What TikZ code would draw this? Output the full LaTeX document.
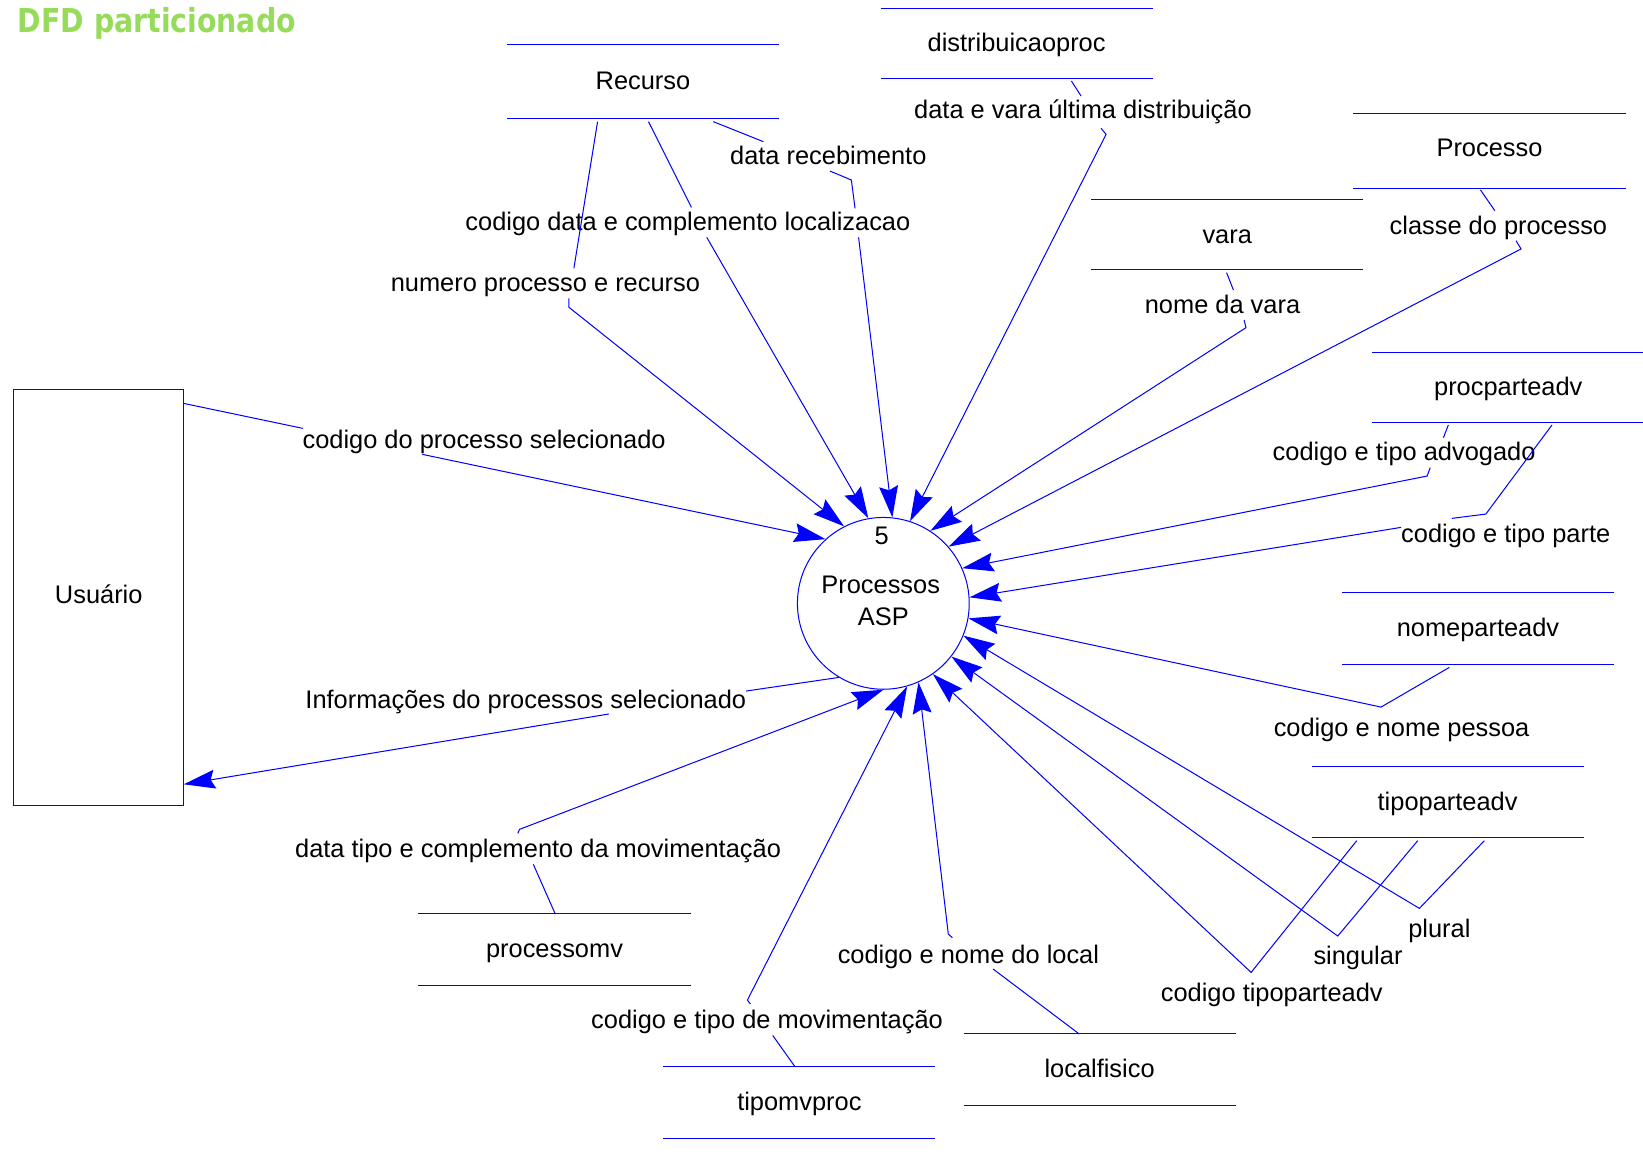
\documentclass[tikz,border=0pt]{standalone}
\usepackage{fontspec}
\setmainfont{Liberation Sans}
\newfontfamily\titlefont[FakeStretch=0.86]{DejaVu Sans}
\usetikzlibrary{arrows.meta,calc}
\definecolor{flowblue}{RGB}{0,0,255}
\definecolor{titlegreen}{RGB}{150,220,90}

\begin{document}
\begin{tikzpicture}[x=0.02cm,y=-0.02cm,
  txt/.style={font=\fontsize{13.8pt}{16pt}\selectfont, inner sep=0pt,
              text height=9.6pt, text depth=0.6pt},
  store/.style={txt, minimum width=5.18cm, minimum height=#1},
  store/.default=1.36cm,
  storeline/.style={draw=flowblue, line width=0.55pt},
  flow/.style={draw=flowblue, line width=0.55pt},
  arrowflow/.style={flow, -{Stealth[length=0.6cm,width=0.36cm,inset=0.08cm]}},
]
\useasboundingbox (0,0) rectangle (1568,1099);

% title
\node[anchor=base west, inner sep=0pt, text=titlegreen,
      font=\titlefont\bfseries\fontsize{17.9pt}{20pt}\selectfont]
  (title) at (16.7,30.9) {DFD particionado};

% external entity
\node[draw=flowblue, line width=0.55pt, txt, text height=6.8pt,
      minimum width=3.246cm, minimum height=7.958cm]
  (U) at (94.25,570.25) {Usuário};

% process
\node[draw=flowblue, line width=0.55pt, circle, minimum size=3.28cm,
      inner sep=0pt] (P) at (843,575.8) {};
\node[txt] (pnum) at (841.5,512.2) {5};
\node[txt] (pname1) at (840.5,558.3) {Processos};
\node[txt] (pname2) at (843,588.6) {ASP};

% data stores
\node[store=1.40cm]  (rec)  at (613.6,77.9)   {Recurso};
\node[store=1.32cm, text height=8.5pt]  (dist) at (970.2,41.9) {distribuicaoproc};
\node[store=1.406cm, text height=6.2pt] (proc) at (1421.5,144) {Processo};
\node[store=1.32cm]  (vara) at (1171.2,224)   {vara};
\node[store=1.316cm, text height=8.5pt] (ppa)  at (1439.4,370.1) {procparteadv};
\node[store=1.368cm] (npa)  at (1410.5,599.8) {nomeparteadv};
\node[store=1.354cm] (tpa)  at (1381.5,765.3) {tipoparteadv};
\node[store=1.368cm] (pmv)  at (529.2,906.2)  {processomv};
\node[store=1.356cm] (lf)   at (1049.4,1020.7){localfisico};
\node[store=1.368cm] (tmv)  at (762.9,1052.2) {tipomvproc};
\foreach \s in {rec,dist,proc,vara,ppa,npa,tpa,pmv,lf,tmv}
  \draw[storeline] (\s.north west) -- (\s.north east)
                   (\s.south west) -- (\s.south east);

% flow labels
\node[txt] (l1)  at (462,420)      {codigo do processo selecionado};
\node[txt] (l2)  at (501.8,668)    {Informações do processos selecionado};
\node[txt] (l3)  at (520.5,270)    {numero processo e recurso};
\node[txt] (l4)  at (656.5,212)    {codigo data e complemento localizacao};
\node[txt] (l5)  at (790.5,149)    {data recebimento};
\node[txt] (l6)  at (1033.5,105)   {data e vara última distribuição};
\node[txt] (l7)  at (1166.7,291)   {nome da vara};
\node[txt] (l8)  at (1430,216.3)   {classe do processo};
\node[txt] (l9)  at (1340,432)     {codigo e tipo advogado};
\node[txt] (l10) at (1437,510)     {codigo e tipo parte};
\node[txt] (l11) at (1337.6,694.5) {codigo e nome pessoa};
\node[txt] (l12) at (1373.7,886.6) {plural};
\node[txt] (l13) at (1296,913)     {singular};
\node[txt] (l14) at (1213.7,948)   {codigo tipoparteadv};
\node[txt] (l15) at (924.2,911.4)  {codigo e nome do local};
\node[txt] (l16) at (732,974.1)    {codigo e tipo de movimentação};
\node[txt] (l17) at (513.5,810)    {data tipo e complemento da movimentação};

% waypoints of the flows (each flow is interrupted by its label)
\coordinate (u1)  at (175.4,385);   \coordinate (f1a) at (289,408.8);
\coordinate (f1b) at (403,433.6);
\coordinate (f2a) at (712,659.5);   \coordinate (f2b) at (581,681.4);
\coordinate (u2)  at (175.4,748.5);
\coordinate (r1)  at (570.3,116.1); \coordinate (f3a) at (547.7,256);
\coordinate (f3b) at (543,284.7);   \coordinate (f3c) at (543,293.3);
\coordinate (r2)  at (618.9,116.1); \coordinate (f4a) at (659.9,197.9);
\coordinate (f4b) at (674.5,226.5);
\coordinate (r3)  at (680.7,116.1); \coordinate (f5a) at (728.5,135.2);
\coordinate (f5b) at (792,163.2);   \coordinate (f5c) at (812.5,171.8);
\coordinate (f5d) at (816,198.8);   \coordinate (f5e) at (819.4,226.5);
\coordinate (d1)  at (1022.5,77.3); \coordinate (f6a) at (1031.7,91.6);
\coordinate (f6b) at (1050.8,122.5);\coordinate (f6c) at (1055.6,128.2);
\coordinate (v1)  at (1170.6,260.2);\coordinate (f7a) at (1177.1,276.8);
\coordinate (f7b) at (1187.3,305.4);\coordinate (f7c) at (1189.1,312.7);
\coordinate (pr1) at (1412.9,181.3);\coordinate (f8a) at (1426.6,201.1);
\coordinate (f8b) at (1446.8,229.7);\coordinate (f8c) at (1451.6,237.6);
\coordinate (pp1) at (1382.2,405.6);\coordinate (f9a) at (1377.5,417.7);
\coordinate (f9b) at (1364.9,446.3);\coordinate (f9c) at (1362,454.3);
\coordinate (pp2) at (1481.1,405.6);\coordinate (f10a) at (1418,490.6);
\coordinate (f10b) at (1385.5,494.7);\coordinate (f10c) at (1337.1,503.3);
\coordinate (np1) at (1383.2,636.9);\coordinate (f11a) at (1318,674.8);
\coordinate (tp1) at (1416.6,802.3);\coordinate (f12a) at (1354.6,866.9);
\coordinate (tp2) at (1353,802.3);  \coordinate (f13a) at (1276.7,893.3);
\coordinate (tp3) at (1294.8,802.3);\coordinate (f14a) at (1194,928);
\coordinate (lf1) at (1030,986.8);  \coordinate (f15a) at (947.8,924.8);
\coordinate (f15b) at (908.9,894.9);\coordinate (f15c) at (905,891.4);
\coordinate (tm1) at (758.7,1018);  \coordinate (f16a) at (737.4,988.1);
\coordinate (f16b) at (716.1,958.2);\coordinate (f16c) at (713.3,954.4);
\coordinate (pm1) at (529.8,872);   \coordinate (f17a) at (509,824.9);
\coordinate (f17b) at (494.2,795.3);\coordinate (f17c) at (495.8,791.5);

% Usuario <-> process
\draw[flow] (u1) -- (f1a);
\draw[arrowflow] (f1b) -- (P.132.3);
\draw[flow] (P.-121.6) -- (f2a);
\draw[arrowflow] (f2b) -- (u2);

% Recurso
\draw[flow] (r1) -- (f3a);
\draw[arrowflow] (f3b) -- (f3c) -- (P.117.7);
\draw[flow] (r2) -- (f4a);
\draw[arrowflow] (f4b) -- (P.100.4);
\draw[flow] (r3) -- (f5a);
\draw[flow] (f5b) -- (f5c) -- (f5d);
\draw[arrowflow] (f5e) -- (P.84.6);

% distribuicaoproc, vara, Processo
\draw[flow] (d1) -- (f6a);
\draw[arrowflow] (f6b) -- (f6c) -- (P.72.2);
\draw[flow] (v1) -- (f7a);
\draw[arrowflow] (f7b) -- (f7c) -- (P.57.7);
\draw[flow] (pr1) -- (f8a);
\draw[arrowflow] (f8b) -- (f8c) -- (P.41);

% procparteadv
\draw[flow] (pp1) -- (f9a);
\draw[arrowflow] (f9b) -- (f9c) -- (P.24.7);
\draw[flow] (pp2) -- (f10a) -- (f10b);
\draw[arrowflow] (f10c) -- (P.4.9);

% nomeparteadv, tipoparteadv
\draw[arrowflow] (np1) -- (f11a) -- (P.-10);
\draw[arrowflow] (tp1) -- (f12a) -- (P.-22.2);
\draw[arrowflow] (tp2) -- (f13a) -- (P.-38.9);
\draw[arrowflow] (tp3) -- (f14a) -- (P.-55.9);

% localfisico, tipomvproc, processomv
\draw[flow] (lf1) -- (f15a);
\draw[arrowflow] (f15b) -- (f15c) -- (P.-66.5);
\draw[flow] (tm1) -- (f16a);
\draw[arrowflow] (f16b) -- (f16c) -- (P.-74.2);
\draw[flow] (pm1) -- (f17a);
\draw[arrowflow] (f17b) -- (f17c) -- (P.-90.4);
\end{tikzpicture}
\end{document}
